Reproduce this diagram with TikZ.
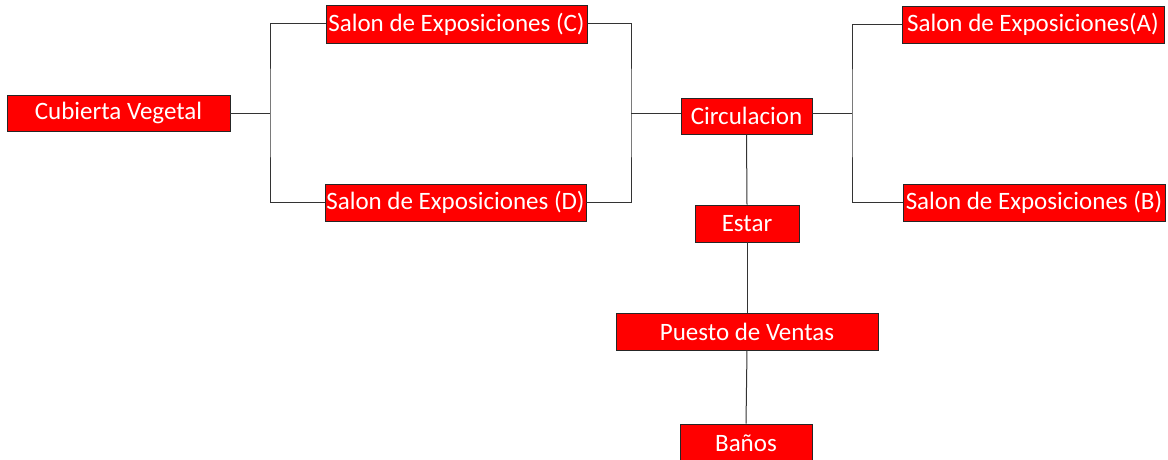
\documentclass[tikz,border=0pt]{standalone}
\usepackage{fontspec}
\setmainfont{Carlito}
\begin{document}
\begin{tikzpicture}[x=1pt,y=-1pt,
  box/.style={draw=black!85,line width=0.9pt,fill=red,text=white,inner sep=0pt,
    font=\fontsize{25}{28}\selectfont,anchor=center},
  link/.style={draw=black!80,line width=1pt}]
\useasboundingbox (0,0) rectangle (1168,460);
\node[box,minimum width=223pt,minimum height=36pt] (cub) at (118.5,113) {Cubierta Vegetal};
\node[box,minimum width=261pt,minimum height=38pt] (C) at (456.5,24) {Salon de Exposiciones (C)};
\node[box,minimum width=261pt,minimum height=37pt] (D) at (455.5,202.5) {Salon de Exposiciones (D)};
\node[box,minimum width=131pt,minimum height=36pt] (circ) at (746.5,116) {Circulacion};
\node[box,minimum width=262pt,minimum height=37pt] (A) at (1033,24.5) {Salon de Exposiciones(A)};
\node[box,minimum width=262pt,minimum height=37pt] (B) at (1034,202.5) {Salon de Exposiciones (B)};
\node[box,minimum width=104pt,minimum height=37pt] (estar) at (747,223.5) {Estar};
\node[box,minimum width=262pt,minimum height=37pt] (puesto) at (747,331.5) {Puesto de Ventas};
\node[box,minimum width=132pt,minimum height=38pt] (banos) at (746,443) {Baños};
\coordinate (lb) at (270,113);
\coordinate (rb) at (631,113);
\coordinate (qb) at (852,113);
\draw[link] (cub.east) -- (lb);
\draw[link] (C.west) -| (lb) |- (D.west);
\draw[link] (C.east) -| (rb) |- (D.east);
\draw[link] (rb) -- (circ.west |- rb);
\draw[link] (circ.east |- qb) -- (qb);
\draw[link] (A.west) -| (qb) |- (B.west);
\draw[link] (circ.south) -- (estar.north);
\draw[link] (estar.south) -- (puesto.north);
\draw[link] (puesto.south) -- (banos.north);
\end{tikzpicture}
\end{document}
